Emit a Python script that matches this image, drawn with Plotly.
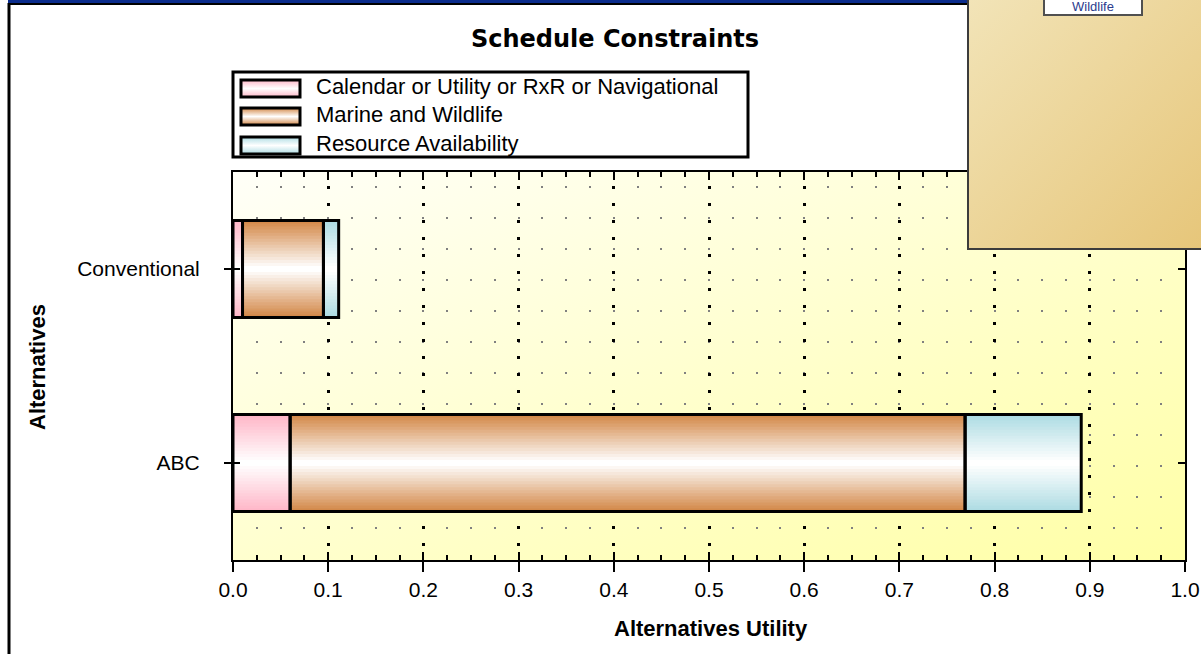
import base64
import numpy as np
import plotly.graph_objects as go

# ---- data -------------------------------------------------------------
alternatives = ["ABC", "Conventional"]
constraint_names = [
    "Calendar or Utility or RxR or Navigational",
    "Marine and Wildlife",
    "Resource Availability",
]
calendar_utility = [0.060, 0.010]
marine_wildlife = [0.709, 0.085]
resource_availability = [0.122, 0.016]
x_tick_values = [0.0, 0.1, 0.2, 0.3, 0.4, 0.5, 0.6, 0.7, 0.8, 0.9, 1.0]
x_tick_labels = ["0.0", "0.1", "0.2", "0.3", "0.4", "0.5", "0.6", "0.7", "0.8", "0.9", "1.0"]

# ---- styling ----------------------------------------------------------
edge_colors = ["#FFB7C8", "#D3894A", "#AEDCE3"]
BAR_WIDTH = 0.5
N_BANDS = 16
TEXT_FONT = "Liberation Sans, Arial, sans-serif"

W, H = 1201, 654
L, R, T, B = 233, 1185, 172, 560
PW, PH = R - L, B - T


def px_x(px):
    return (px - L) / PW


def px_y(py):
    return (B - py) / PH


def mix(hex_color, t):
    """Blend a hex colour toward white by fraction t."""
    c = np.array([int(hex_color[i:i + 2], 16) for i in (1, 3, 5)], dtype=float)
    c = c + (255 - c) * t
    return "rgb(%d,%d,%d)" % tuple(np.round(c).astype(int))


def svg_uri(body):
    svg = ('<svg xmlns="http://www.w3.org/2000/svg" width="100" height="100" '
           'viewBox="0 0 100 100" preserveAspectRatio="none">' + body + '</svg>')
    return "data:image/svg+xml;base64," + base64.b64encode(svg.encode()).decode()


def diag_gradient(c0, c1):
    return svg_uri(
        '<defs><linearGradient id="g" x1="0" y1="0" x2="1" y2="1">'
        f'<stop offset="0" stop-color="{c0}"/><stop offset="1" stop-color="{c1}"/>'
        '</linearGradient></defs><rect width="100" height="100" fill="url(#g)"/>')


def band_gradient(edge):
    return svg_uri(
        '<defs><linearGradient id="g" x1="0" y1="0" x2="0" y2="1">'
        f'<stop offset="0" stop-color="{edge}"/><stop offset="0.5" stop-color="#ffffff"/>'
        f'<stop offset="1" stop-color="{edge}"/>'
        '</linearGradient></defs><rect width="100" height="100" fill="url(#g)"/>')


def image_box(src, x0, y0, x1, y1, layer):
    return dict(source=src, xref="paper", yref="paper", x=px_x(x0), y=px_y(y0),
                sizex=(x1 - x0) / PW, sizey=(y1 - y0) / PH, xanchor="left",
                yanchor="top", sizing="stretch", layer=layer)


def rect(x0, y0, x1, y1, line_color="black", width=3, fill="rgba(0,0,0,0)"):
    return dict(type="rect", xref="paper", yref="paper", x0=px_x(x0), x1=px_x(x1),
                y0=px_y(y0), y1=px_y(y1), line=dict(color=line_color, width=width),
                fillcolor=fill, layer="above")


fig = go.Figure()

# ---- stacked bars, shaded with nested bands ----------------------------
y_pos = list(range(len(alternatives)))
segments = [calendar_utility, marine_wildlife, resource_availability]
starts = np.zeros(len(alternatives))
for name, vals, edge in zip(constraint_names, segments, edge_colors):
    vals = np.array(vals)
    for k in range(N_BANDS):
        fig.add_trace(go.Bar(
            y=y_pos, x=vals, base=starts, orientation="h",
            width=BAR_WIDTH * (N_BANDS - k) / N_BANDS,
            marker=dict(color=mix(edge, k / (N_BANDS - 1)), line=dict(width=0)),
            showlegend=False, hoverinfo="skip", xaxis="x", yaxis="y"))
    fig.add_trace(go.Bar(
        y=y_pos, x=vals, base=starts, orientation="h", width=BAR_WIDTH, name=name,
        marker=dict(color="rgba(0,0,0,0)", line=dict(color="black", width=3)),
        showlegend=False, xaxis="x2", yaxis="y2"))
    starts = starts + vals

# ---- layout -----------------------------------------------------------
tick_font = dict(family=TEXT_FONT, size=21, color="black")
fig.update_layout(
    width=W, height=H,
    margin=dict(l=L, r=W - R, t=T, b=H - B, pad=0, autoexpand=False),
    paper_bgcolor="white", plot_bgcolor="rgba(0,0,0,0)",
    barmode="overlay", hovermode=False, showlegend=False,
    title=dict(text="<b>Schedule Constraints</b>", xref="container", yref="container",
               x=615 / W, y=1 - 39 / H, xanchor="center", yanchor="middle",
               font=dict(family="DejaVu Sans, sans-serif", size=24, color="black")),
    xaxis=dict(range=[0, 1], tickmode="array", tickvals=x_tick_values, ticktext=x_tick_labels,
               ticks="outside", ticklen=10, tickwidth=2, tickcolor="black",
               showline=True, linewidth=2, linecolor="black", mirror=True,
               showgrid=True, gridcolor="black", gridwidth=3, griddash="0px,14px,3px,0px",
               zeroline=False, tickfont=tick_font, ticklabelstandoff=0, automargin=False,
               minor=dict(tickmode="linear", tick0=0, dtick=0.025, ticks="",
                          showgrid=True, gridcolor="#808080", gridwidth=2,
                          griddash="0px,14px,2px,15px")),
    xaxis2=dict(range=[0, 1], overlaying="x", anchor="y2", side="bottom",
                tickmode="array", tickvals=x_tick_values, showticklabels=False,
                ticks="inside", ticklen=8, tickwidth=2, tickcolor="black",
                showline=True, linewidth=2, linecolor="black", mirror="ticks",
                showgrid=False, zeroline=False, automargin=False,
                minor=dict(tickmode="linear", tick0=0, dtick=0.025, ticks="inside",
                           ticklen=5, tickwidth=2, tickcolor="black", showgrid=False)),
    yaxis=dict(range=[-0.5, 1.5], tickmode="array", tickvals=y_pos, ticktext=alternatives,
               ticks="outside", ticklen=7, tickwidth=2, tickcolor="black",
               showline=True, linewidth=2, linecolor="black", mirror=True,
               showgrid=False, zeroline=False, tickfont=tick_font, ticklabelstandoff=20,
               automargin=False),
    yaxis2=dict(range=[-0.5, 1.5], overlaying="y", anchor="x2", side="left",
                tickmode="array", tickvals=y_pos, showticklabels=False,
                ticks="inside", ticklen=7, tickwidth=2, tickcolor="black",
                showline=True, linewidth=2, linecolor="black", mirror="ticks",
                showgrid=False, zeroline=False, automargin=False),
)

# ---- backgrounds, legend swatches and side panel ------------------------
images = [image_box(diag_gradient("#FFFFF8", "#FFFFA6"), L, T, R, B, "below")]
swatch_rows = [(80, 97), (108, 125), (137, 154)]
for (y0, y1), edge in zip(swatch_rows, edge_colors):
    images.append(image_box(band_gradient(edge), 241, y0, 300, y1, "above"))
images.append(image_box(diag_gradient("#F2E4B8", "#E6C578"), 968, -4, 1215, 249, "above"))
fig.update_layout(images=images)

shapes = [
    # window frame
    dict(type="rect", xref="paper", yref="paper", x0=px_x(8), x1=px_x(968),
         y0=px_y(3), y1=px_y(-2), fillcolor="#0B2C8C", line=dict(width=0), layer="above"),
    dict(type="line", xref="paper", yref="paper", x0=px_x(8), x1=px_x(968),
         y0=px_y(4), y1=px_y(4), line=dict(color="black", width=2), layer="above"),
    dict(type="line", xref="paper", yref="paper", x0=px_x(9), x1=px_x(9),
         y0=px_y(3), y1=px_y(660), line=dict(color="black", width=3), layer="above"),
    # legend frame
    rect(233, 72, 748, 157, width=3),
    # side panel border
    rect(968, -6, 1215, 249, line_color="#3C3C3C", width=2),
]
for y0, y1 in swatch_rows:
    shapes.append(rect(241, y0, 300, y1, width=3))
fig.update_layout(shapes=shapes)

# ---- text -------------------------------------------------------------
annotations = []
for (y0, y1), name in zip(swatch_rows, constraint_names):
    annotations.append(dict(text=name, xref="paper", yref="paper", x=px_x(314),
                            y=px_y((y0 + y1) / 2 - 2), xanchor="left", yanchor="middle",
                            showarrow=False,
                            font=dict(family=TEXT_FONT, size=22, color="black")))
annotations.append(dict(text="<b>Alternatives Utility</b>", xref="paper", yref="paper",
                        x=px_x(711), y=px_y(628), xanchor="center", yanchor="middle",
                        showarrow=False, font=dict(family=TEXT_FONT, size=22, color="black")))
annotations.append(dict(text="<b>Alternatives</b>", xref="paper", yref="paper",
                        x=px_x(37), y=px_y(367), xanchor="center", yanchor="middle",
                        textangle=-90, showarrow=False,
                        font=dict(family=TEXT_FONT, size=22, color="black")))
annotations.append(dict(text="Wildlife", xref="paper", yref="paper",
                        x=px_x(1093), y=px_y(16), xanchor="center", yanchor="bottom",
                        width=96, height=32, valign="bottom", borderpad=0,
                        showarrow=False, bgcolor="white",
                        bordercolor="#505050", borderwidth=2,
                        font=dict(family=TEXT_FONT, size=13, color="#2B3C8E")))
fig.update_layout(annotations=annotations)

fig.write_html("out.html")
